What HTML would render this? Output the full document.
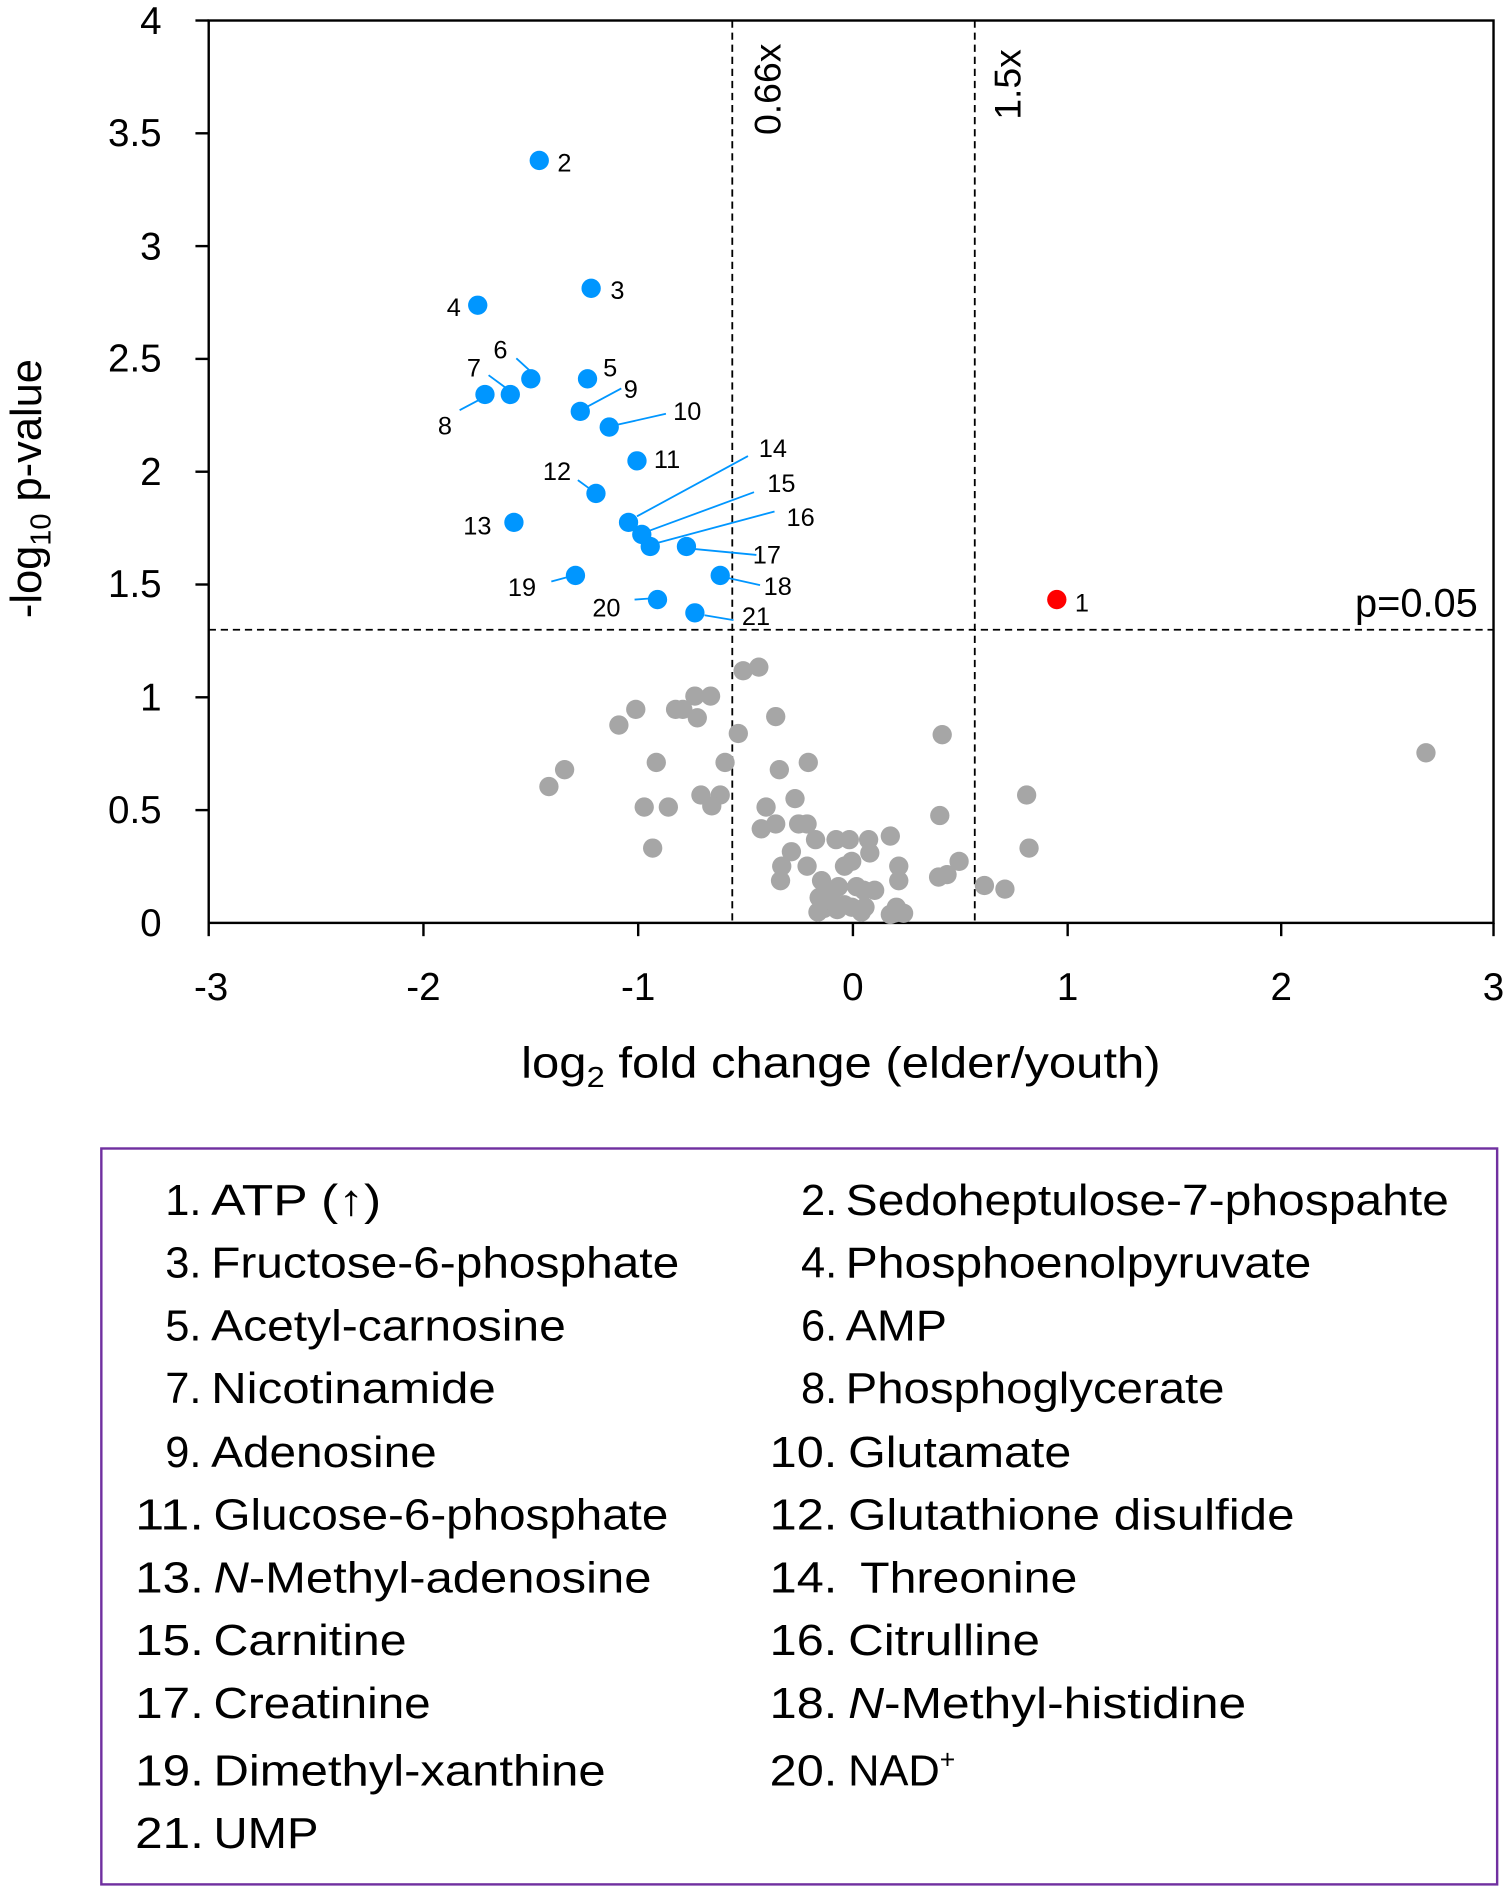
<!DOCTYPE html>
<html><head><meta charset="utf-8"><style>html,body{margin:0;padding:0;background:#fff}svg{display:block}</style></head>
<body>
<svg width="1508" height="1892" viewBox="0 0 1250 1568.3" preserveAspectRatio="none" xmlns="http://www.w3.org/2000/svg" font-family="'Liberation Sans', sans-serif">
<rect width="1250" height="1568.3" fill="#fff"/>
<rect x="173" y="17" width="1065" height="748" fill="none" stroke="#000" stroke-width="2"/>
<g stroke="#000" stroke-width="2">
<line x1="173" y1="765" x2="173" y2="776"/><line x1="351" y1="765" x2="351" y2="776"/><line x1="529" y1="765" x2="529" y2="776"/><line x1="707" y1="765" x2="707" y2="776"/><line x1="885" y1="765" x2="885" y2="776"/><line x1="1062" y1="765" x2="1062" y2="776"/><line x1="1238" y1="765" x2="1238" y2="776"/>
<line x1="162" y1="17" x2="173" y2="17"/><line x1="162" y1="110.5" x2="173" y2="110.5"/><line x1="162" y1="204" x2="173" y2="204"/><line x1="162" y1="297.5" x2="173" y2="297.5"/><line x1="162" y1="391" x2="173" y2="391"/><line x1="162" y1="484.5" x2="173" y2="484.5"/><line x1="162" y1="578" x2="173" y2="578"/><line x1="162" y1="671.5" x2="173" y2="671.5"/>
</g>
<g font-size="32" text-anchor="end" fill="#000">
<text x="134" y="28">4</text><text x="134" y="121">3.5</text><text x="134" y="215">3</text><text x="134" y="308">2.5</text><text x="134" y="402">2</text><text x="134" y="495">1.5</text><text x="134" y="589">1</text><text x="134" y="682">0.5</text><text x="134" y="776">0</text>
</g>
<g font-size="32" text-anchor="middle">
<text x="175" y="829">-3</text><text x="351" y="829">-2</text><text x="529" y="829">-1</text><text x="707" y="829">0</text><text x="885" y="829">1</text><text x="1062" y="829">2</text><text x="1238" y="829">3</text>
</g>
<text x="432" y="893" font-size="36" textLength="530" lengthAdjust="spacingAndGlyphs">log<tspan font-size="24" dy="8">2</tspan><tspan dy="-8"> fold change (elder/youth)</tspan></text>
<text transform="translate(34,405) rotate(-90)" font-size="36" text-anchor="middle">-log<tspan font-size="24" dy="8">10</tspan><tspan dy="-8"> p-value</tspan></text>
<g stroke="#000" stroke-width="1.5" stroke-dasharray="6,4">
<line x1="607" y1="17" x2="607" y2="765"/><line x1="808" y1="17" x2="808" y2="765"/><line x1="173" y1="522" x2="1238" y2="522"/>
</g>
<text transform="translate(647,74) rotate(-90)" font-size="31" text-anchor="middle">0.66x</text>
<text transform="translate(846,70) rotate(-90)" font-size="31" text-anchor="middle">1.5x</text>
<text x="1225" y="511" font-size="33" text-anchor="end">p=0.05</text>
<g fill="#a6a6a6">
<circle cx="455" cy="652" r="8"/><circle cx="468" cy="638" r="8"/><circle cx="513" cy="601" r="8"/><circle cx="527" cy="588" r="8"/><circle cx="560" cy="588" r="8"/><circle cx="566" cy="588" r="8"/><circle cx="576" cy="577" r="8"/><circle cx="589" cy="577" r="8"/><circle cx="578" cy="595" r="8"/><circle cx="544" cy="632" r="8"/><circle cx="534" cy="669" r="8"/><circle cx="554" cy="669" r="8"/><circle cx="541" cy="703" r="8"/><circle cx="581" cy="659" r="8"/><circle cx="597" cy="659" r="8"/><circle cx="590" cy="668" r="8"/><circle cx="601" cy="632" r="8"/><circle cx="612" cy="608" r="8"/><circle cx="616" cy="556" r="8"/><circle cx="629" cy="553" r="8"/><circle cx="643" cy="594" r="8"/><circle cx="670" cy="632" r="8"/><circle cx="646" cy="638" r="8"/><circle cx="635" cy="669" r="8"/><circle cx="659" cy="662" r="8"/><circle cx="631" cy="687" r="8"/><circle cx="643" cy="683" r="8"/><circle cx="662" cy="683" r="8"/><circle cx="669" cy="683" r="8"/><circle cx="676" cy="696" r="8"/><circle cx="693" cy="696" r="8"/><circle cx="704" cy="696" r="8"/><circle cx="720" cy="696" r="8"/><circle cx="738" cy="693" r="8"/><circle cx="656" cy="706" r="8"/><circle cx="648" cy="718" r="8"/><circle cx="669" cy="718" r="8"/><circle cx="647" cy="730" r="8"/><circle cx="681" cy="730" r="8"/><circle cx="700" cy="718" r="8"/><circle cx="706" cy="714" r="8"/><circle cx="689" cy="740" r="8"/><circle cx="695" cy="735" r="8"/><circle cx="710" cy="735" r="8"/><circle cx="716" cy="738" r="8"/><circle cx="725" cy="738" r="8"/><circle cx="743" cy="752" r="8"/><circle cx="683" cy="753" r="8"/><circle cx="694" cy="754" r="8"/><circle cx="706" cy="752" r="8"/><circle cx="717" cy="752" r="8"/><circle cx="745" cy="718" r="8"/><circle cx="745" cy="730" r="8"/><circle cx="679" cy="744" r="8"/><circle cx="749" cy="757" r="8"/><circle cx="741" cy="757" r="8"/><circle cx="778" cy="727" r="8"/><circle cx="785" cy="725" r="8"/><circle cx="795" cy="714" r="8"/><circle cx="781" cy="609" r="8"/><circle cx="779" cy="676" r="8"/><circle cx="816" cy="734" r="8"/><circle cx="833" cy="737" r="8"/><circle cx="851" cy="659" r="8"/><circle cx="853" cy="703" r="8"/><circle cx="1182" cy="624" r="8"/><circle cx="721" cy="707" r="8"/><circle cx="700" cy="750" r="8"/><circle cx="738" cy="758" r="8"/><circle cx="678" cy="756" r="8"/><circle cx="714" cy="756" r="8"/>
</g>
<g stroke="#0096ff" stroke-width="1.5">
<line x1="428" y1="297" x2="440" y2="308"/><line x1="405" y1="311" x2="420" y2="322"/><line x1="381" y1="340" x2="400" y2="330"/><line x1="487" y1="337" x2="515" y2="322"/><line x1="512" y1="352" x2="552" y2="343"/><line x1="479" y1="398" x2="490" y2="406"/><line x1="528" y1="428" x2="620" y2="378"/><line x1="538" y1="440" x2="625" y2="408"/><line x1="545" y1="450" x2="642" y2="424"/><line x1="575" y1="455" x2="627" y2="460"/><line x1="603" y1="479" x2="630" y2="485"/><line x1="457" y1="482" x2="472" y2="478"/><line x1="526" y1="497" x2="540" y2="496"/><line x1="584" y1="510" x2="608" y2="514"/>
</g>
<g fill="#0096ff">
<circle cx="447" cy="133" r="8"/><circle cx="490" cy="239" r="8"/><circle cx="396" cy="253" r="8"/><circle cx="440" cy="314" r="8"/><circle cx="487" cy="314" r="8"/><circle cx="423" cy="327" r="8"/><circle cx="402" cy="327" r="8"/><circle cx="481" cy="341" r="8"/><circle cx="505" cy="354" r="8"/><circle cx="528" cy="382" r="8"/><circle cx="494" cy="409" r="8"/><circle cx="426" cy="433" r="8"/><circle cx="521" cy="433" r="8"/><circle cx="532" cy="443" r="8"/><circle cx="539" cy="453" r="8"/><circle cx="569" cy="453" r="8"/><circle cx="597" cy="477" r="8"/><circle cx="477" cy="477" r="8"/><circle cx="545" cy="497" r="8"/><circle cx="576" cy="508" r="8"/>
</g>
<circle cx="876" cy="497" r="8" fill="#ff0000"/>
<g font-size="21">
<text x="462" y="142">2</text><text x="506" y="248">3</text><text x="382" y="262" text-anchor="end">4</text><text x="409" y="297">6</text><text x="500" y="312">5</text><text x="517" y="330">9</text><text x="387" y="312">7</text><text x="363" y="360">8</text><text x="558" y="348">10</text><text x="542" y="388">11</text><text x="450" y="398">12</text><text x="384" y="443">13</text><text x="629" y="379">14</text><text x="636" y="408">15</text><text x="652" y="436">16</text><text x="624" y="467">17</text><text x="633" y="493">18</text><text x="421" y="494">19</text><text x="491" y="511">20</text><text x="615" y="518">21</text><text x="891" y="507">1</text>
</g>
<rect x="84" y="952" width="1157" height="610" fill="none" stroke="#7030a0" stroke-width="2"/>
<g font-size="36">
<g text-anchor="end">
<text x="167" y="1007">1.</text><text x="167" y="1059">3.</text><text x="167" y="1111">5.</text><text x="167" y="1163">7.</text><text x="167" y="1216">9.</text><text x="169" y="1268" textLength="57" lengthAdjust="spacingAndGlyphs">11.</text><text x="169" y="1320" textLength="57" lengthAdjust="spacingAndGlyphs">13.</text><text x="169" y="1372" textLength="57" lengthAdjust="spacingAndGlyphs">15.</text><text x="169" y="1424" textLength="57" lengthAdjust="spacingAndGlyphs">17.</text><text x="169" y="1480" textLength="57" lengthAdjust="spacingAndGlyphs">19.</text><text x="169" y="1532" textLength="57" lengthAdjust="spacingAndGlyphs">21.</text>
<text x="694" y="1007">2.</text><text x="694" y="1059">4.</text><text x="694" y="1111">6.</text><text x="694" y="1163">8.</text><text x="694" y="1216" textLength="56" lengthAdjust="spacingAndGlyphs">10.</text><text x="694" y="1268" textLength="56" lengthAdjust="spacingAndGlyphs">12.</text><text x="694" y="1320" textLength="56" lengthAdjust="spacingAndGlyphs">14.</text><text x="694" y="1372" textLength="56" lengthAdjust="spacingAndGlyphs">16.</text><text x="694" y="1424" textLength="56" lengthAdjust="spacingAndGlyphs">18.</text><text x="694" y="1480" textLength="56" lengthAdjust="spacingAndGlyphs">20.</text>
</g>
<text x="175" y="1007" textLength="141" lengthAdjust="spacingAndGlyphs">ATP (↑)</text>
<text x="175" y="1059" textLength="388" lengthAdjust="spacingAndGlyphs">Fructose-6-phosphate</text>
<text x="175" y="1111" textLength="294" lengthAdjust="spacingAndGlyphs">Acetyl-carnosine</text>
<text x="175" y="1163" textLength="236" lengthAdjust="spacingAndGlyphs">Nicotinamide</text>
<text x="175" y="1216" textLength="187" lengthAdjust="spacingAndGlyphs">Adenosine</text>
<text x="177" y="1268" textLength="377" lengthAdjust="spacingAndGlyphs">Glucose-6-phosphate</text>
<text x="177" y="1320" textLength="363" lengthAdjust="spacingAndGlyphs"><tspan font-style="italic">N</tspan>-Methyl-adenosine</text>
<text x="177" y="1372" textLength="160" lengthAdjust="spacingAndGlyphs">Carnitine</text>
<text x="177" y="1424" textLength="180" lengthAdjust="spacingAndGlyphs">Creatinine</text>
<text x="177" y="1480" textLength="325" lengthAdjust="spacingAndGlyphs">Dimethyl-xanthine</text>
<text x="177" y="1532" textLength="87" lengthAdjust="spacingAndGlyphs">UMP</text>
<text x="701" y="1007" textLength="500" lengthAdjust="spacingAndGlyphs">Sedoheptulose-7-phospahte</text>
<text x="701" y="1059" textLength="386" lengthAdjust="spacingAndGlyphs">Phosphoenolpyruvate</text>
<text x="701" y="1111" textLength="84" lengthAdjust="spacingAndGlyphs">AMP</text>
<text x="701" y="1163" textLength="314" lengthAdjust="spacingAndGlyphs">Phosphoglycerate</text>
<text x="703" y="1216" textLength="185" lengthAdjust="spacingAndGlyphs">Glutamate</text>
<text x="703" y="1268" textLength="370" lengthAdjust="spacingAndGlyphs">Glutathione disulfide</text>
<text x="713" y="1320" textLength="180" lengthAdjust="spacingAndGlyphs">Threonine</text>
<text x="703" y="1372" textLength="159" lengthAdjust="spacingAndGlyphs">Citrulline</text>
<text x="703" y="1424" textLength="330" lengthAdjust="spacingAndGlyphs"><tspan font-style="italic">N</tspan>-Methyl-histidine</text>
<text x="703" y="1480">NAD<tspan font-size="22" dy="-14">+</tspan></text>
</g>
</svg>
</body></html>
